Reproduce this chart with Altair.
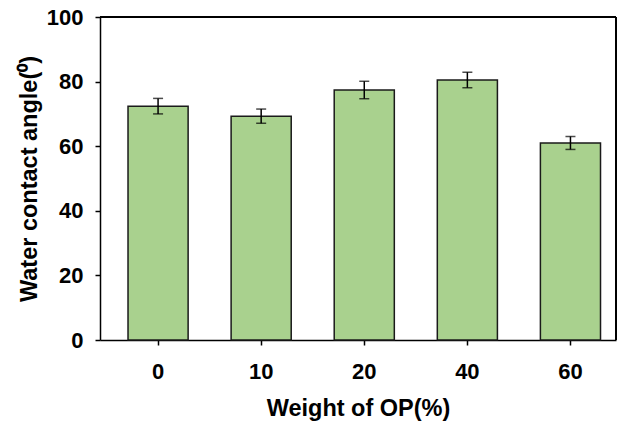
import altair as alt
import pandas as pd

categories = ["0", "10", "20", "40", "60"]
angles = [72.4, 69.3, 77.4, 80.5, 61.0]
errors = [2.4, 2.2, 2.7, 2.4, 2.0]

df = pd.DataFrame({"cat": categories, "val": angles, "err": errors})
df["lo"] = df["val"] - df["err"]
df["hi"] = df["val"] + df["err"]

FONT = "Liberation Sans"
LABEL_SIZE = 22
TITLE_SIZE = 23.5
W, H = 516, 323

xenc = alt.X(
    "cat:N",
    sort=categories,
    title="Weight of OP(%)",
    scale=alt.Scale(paddingInner=0.417, paddingOuter=0.211, align=0.644),
    axis=alt.Axis(
        labelAngle=0,
        labelFontSize=LABEL_SIZE,
        labelFontWeight="bold",
        labelFont=FONT,
        labelColor="black",
        labelPadding=16,
        tickSize=5,
        tickColor="black",
        tickWidth=1.5,
        domainColor="black",
        domainWidth=1.5,
        titleFontSize=TITLE_SIZE,
        titleFontWeight="bold",
        titleFont=FONT,
        titleColor="black",
        titlePadding=14,
    ),
)

yscale = alt.Scale(domain=[0, 100], nice=False)

bars = alt.Chart(df).mark_bar(
    color="#a9d18e", stroke="#1a1a1a", strokeWidth=1.5
).encode(
    x=xenc,
    y=alt.Y(
        "val:Q",
        scale=yscale,
        title="Water contact angle(⁰)",
        axis=alt.Axis(
            values=[0, 20, 40, 60, 80, 100],
            grid=False,
            labelFontSize=LABEL_SIZE,
            labelFontWeight="bold",
            labelFont=FONT,
            labelColor="black",
            labelPadding=12,
            tickSize=5,
            tickColor="black",
            tickWidth=1.5,
            domainColor="black",
            domainWidth=1.5,
            titleFontSize=TITLE_SIZE,
            titleFontWeight="bold",
            titleFont=FONT,
            titleColor="black",
            titlePadding=5,
        ),
    ),
)

rules = alt.Chart(df).mark_rule(color="black", strokeWidth=1.5).encode(
    x=alt.X("cat:N", sort=categories),
    y=alt.Y("lo:Q", scale=yscale),
    y2="hi:Q",
)

caps_lo = alt.Chart(df).mark_tick(color="black", thickness=1.5, size=10).encode(
    x=alt.X("cat:N", sort=categories),
    y=alt.Y("lo:Q", scale=yscale),
)
caps_hi = alt.Chart(df).mark_tick(color="black", thickness=1.5, size=10).encode(
    x=alt.X("cat:N", sort=categories),
    y=alt.Y("hi:Q", scale=yscale),
)

# plot-area frame (top and right edges)
frame_top = alt.Chart(df).mark_rule(color="black", strokeWidth=1.5).encode(
    x=alt.value(0), x2=alt.value(W), y=alt.value(0)
)
frame_right = alt.Chart(df).mark_rule(color="black", strokeWidth=1.5).encode(
    x=alt.value(W), y=alt.value(0), y2=alt.value(H)
)

chart = (
    alt.layer(bars, rules, caps_lo, caps_hi, frame_top, frame_right)
    .properties(
        width=W,
        height=H,
        background="white",
        autosize=alt.AutoSizeParams(type="none"),
        padding={"left": 92, "top": 9, "right": 1, "bottom": 82},
    )
    .configure_view(stroke=None)
)

chart.save("out.html", embed_options={"renderer": "svg", "actions": False})
